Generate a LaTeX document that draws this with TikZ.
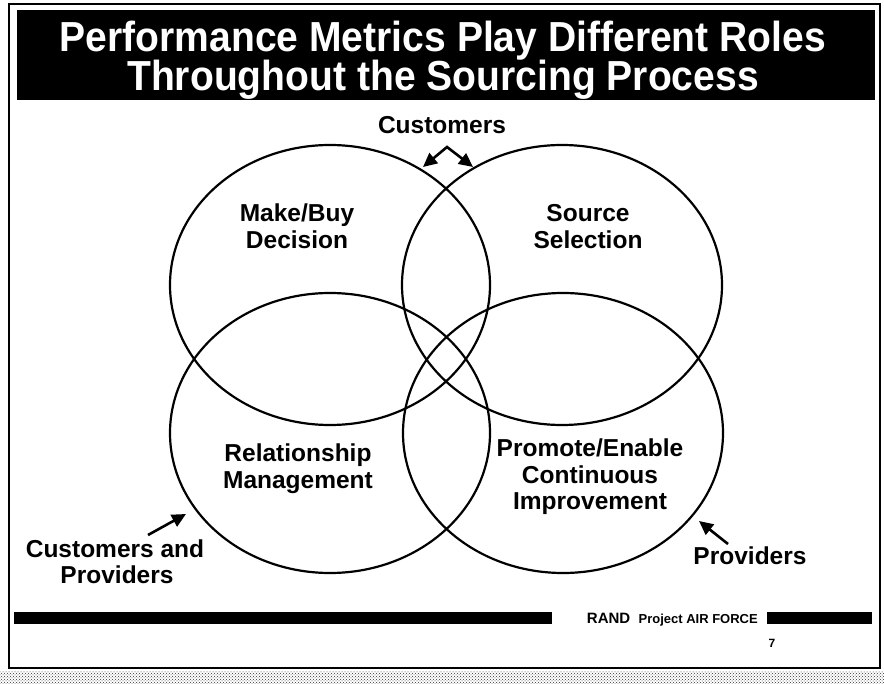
\documentclass[tikz,border=0pt]{standalone}
\usepackage{fontspec}
\setmainfont{Liberation Sans}
\newfontfamily\titlefont[FakeStretch=0.93]{Liberation Sans}
\usetikzlibrary{arrows.meta,shapes.geometric,patterns}
\begin{document}
\begin{tikzpicture}[x=1pt,y=-1pt,
  circ/.style={draw, line width=2.2pt, ellipse, minimum width=320pt, minimum height=280pt, inner sep=0pt},
  lbl/.style={font=\fontsize{24.5}{26}\selectfont\bfseries, inner sep=0pt, anchor=base},
  ttl/.style={font=\titlefont\fontsize{42}{44}\selectfont\bfseries, text=white, inner sep=0pt, anchor=base},
  arr/.style={line width=2.6pt, -{Triangle[length=14pt,width=13pt]}},
  bar/.style={fill=black},
]
\useasboundingbox (0,0) rectangle (884,684);
\fill[white] (0,0) rectangle (884,684);
\fill[pattern=crosshatch dots, pattern color=black!80] (0,671) rectangle (884,684);
\draw[line width=1.6pt] (9,4) rectangle (880,668);
\node[fill=black, minimum width=858pt, minimum height=90pt, inner sep=0pt, anchor=north west] (title) at (17,10) {};
\node[ttl] (t1) at (443,52) {Performance Metrics Play Different Roles};
\node[ttl] (t2) at (443,91) {Throughout the Sourcing Process};

\node[circ] (tl) at (330,285) {};
\node[circ] (tr) at (562,285) {};
\node[circ] (bl) at (330,433) {};
\node[circ] (br) at (563,433) {};

\node[lbl] (mb1) at (297,222) {Make/Buy};
\node[lbl] (mb2) at (297,249) {Decision};
\node[lbl] (ss1) at (588,222) {Source};
\node[lbl] (ss2) at (588,249) {Selection};
\node[lbl] (rm1) at (298,462) {Relationship};
\node[lbl] (rm2) at (298,489) {Management};
\node[lbl] (pe1) at (590,457) {Promote/Enable};
\node[lbl] (pe2) at (590,483) {Continuous};
\node[lbl] (pe3) at (590,509) {Improvement};

\node[lbl] (cust) at (442,134) {Customers};
\node[lbl] (cp1) at (115,557) {Customers and};
\node[lbl] (cp2) at (117,583) {Providers};
\node[lbl] (prov) at (750,564) {Providers};

\coordinate (apex) at (447,147);
\coordinate (ctl) at (423,167);
\coordinate (ctr) at (473,167);
\draw[line width=2.6pt, {Triangle[length=14pt,width=13pt]}-{Triangle[length=14pt,width=13pt]}, line join=miter] (ctl) -- (apex) -- (ctr);

\coordinate (cpt) at (148,535);
\coordinate (cph) at (186,514);
\draw[arr] (cpt) -- (cph);
\coordinate (pvt) at (728,544);
\coordinate (pvh) at (699,521);
\draw[arr] (pvt) -- (pvh);

\fill[bar] (14,612) rectangle (552,624);
\fill[bar] (767,612) rectangle (872,624);
\node[inner sep=0pt, anchor=base east] (rand) at (758,623) {\bfseries\fontsize{15}{15}\selectfont RAND\ \ \fontsize{13}{13}\selectfont Project AIR FORCE};
\node[inner sep=0pt, anchor=base] (pg) at (772,647) {\bfseries\fontsize{12}{12}\selectfont 7};
\end{tikzpicture}
\end{document}
